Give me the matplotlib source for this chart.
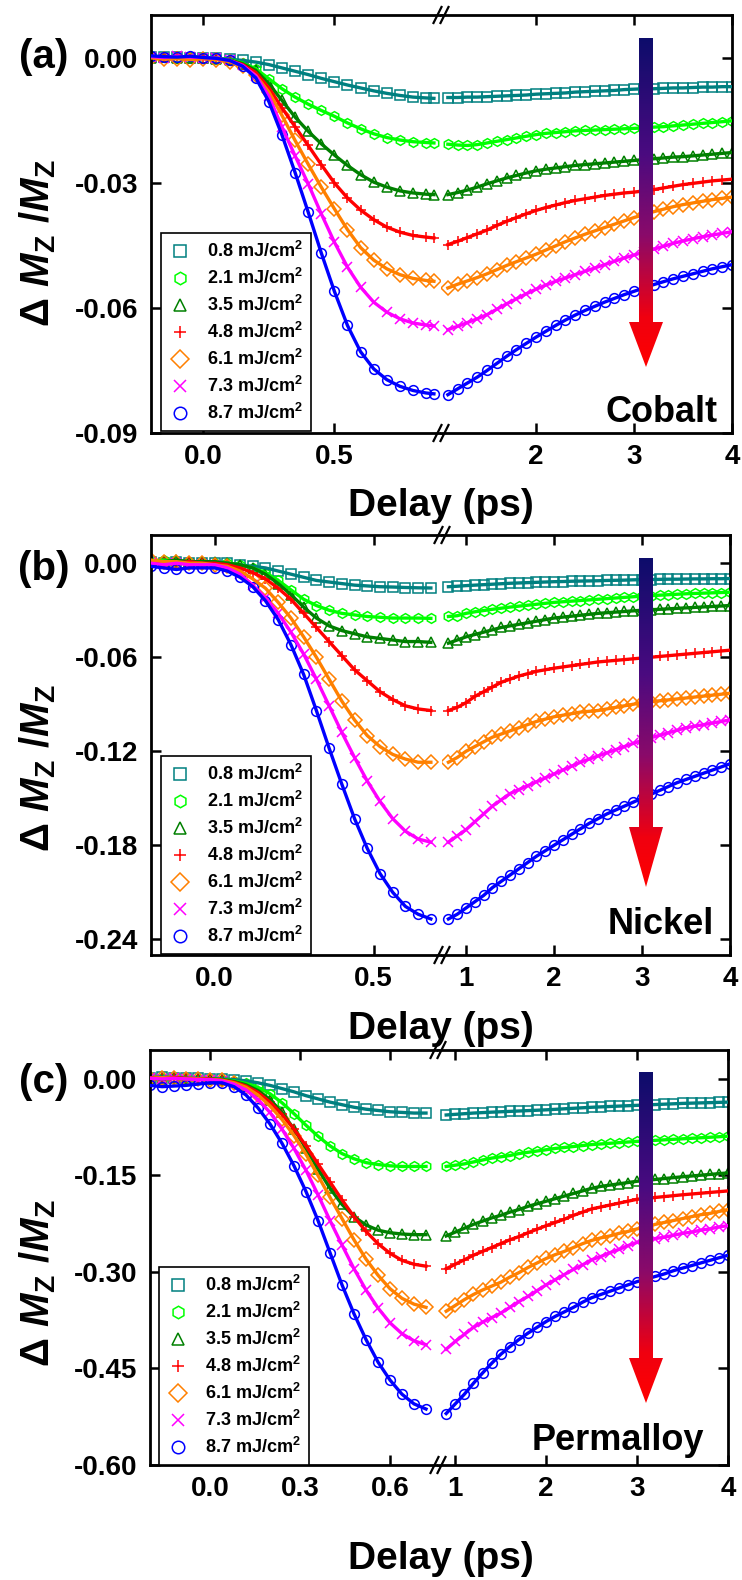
import numpy as np
import matplotlib
matplotlib.use('Agg')
import matplotlib.pyplot as plt
from matplotlib.lines import Line2D
from matplotlib.patches import Polygon
from matplotlib.colors import LinearSegmentedColormap

plt.rcParams['font.family'] = ['Liberation Sans', 'DejaVu Sans']
plt.rcParams['font.weight'] = 'bold'
plt.rcParams['axes.unicode_minus'] = False
plt.rcParams['mathtext.fontset'] = 'custom'
plt.rcParams['mathtext.rm'] = 'Liberation Sans:bold'
plt.rcParams['mathtext.it'] = 'Liberation Sans:bold:italic'
plt.rcParams['mathtext.bf'] = 'Liberation Sans:bold'
plt.rcParams['mathtext.sf'] = 'Liberation Sans'

# ---------------- data ----------------
fluences = ['0.8', '2.1', '3.5', '4.8', '6.1', '7.3', '8.7']
colors = ['#008080', '#00FF00', '#008000', '#FF0000', '#FF8000', '#FF00FF', '#0000FF']
markers = ['s', 'h', '^', '+', 'D', 'x', 'o']

# (a) Cobalt, values in units of 1e-3
co_t_left = [-0.2, -0.15, -0.1, -0.05, 0.0, 0.05, 0.1, 0.15, 0.2, 0.25, 0.3, 0.35, 0.4, 0.45,
             0.5, 0.55, 0.6, 0.65, 0.7, 0.75, 0.8, 0.85, 0.88]
co_left = [
    [0.3, 0.2, 0.3, 0.1, 0.0, -0.1, -0.3, -0.6, -1.0, -1.6, -2.4, -3.2, -4.0, -4.9, -5.7, -6.5, -7.2, -7.9, -8.5, -9.0, -9.4, -9.6, -9.7],
    [0.2, 0.3, 0.1, 0.2, 0.0, -0.1, -0.4, -1.2, -2.6, -5.0, -7.4, -9.4, -11.1, -12.6, -14.0, -15.6, -17.0, -18.2, -19.1, -19.7, -20.1, -20.3, -20.4],
    [0.1, 0.2, 0.0, -0.1, 0.0, -0.2, -0.5, -1.4, -3.0, -6.2, -10.2, -14.2, -17.6, -20.6, -23.3, -25.8, -28.0, -29.8, -31.0, -31.9, -32.4, -32.7, -32.8],
    [0.3, 0.1, 0.4, 0.2, 0.0, -0.2, -0.6, -1.6, -3.5, -7.2, -12.0, -16.5, -21.0, -25.6, -30.0, -33.6, -36.5, -38.8, -40.6, -41.8, -42.6, -43.0, -43.2],
    [0.0, -0.3, -0.2, -0.4, -0.2, -0.4, -0.9, -2.0, -4.2, -8.2, -13.8, -19.8, -25.5, -31.0, -36.2, -41.2, -45.5, -48.5, -50.6, -52.0, -52.9, -53.4, -53.6],
    [0.3, 0.1, 0.4, 0.2, 0.1, -0.1, -0.6, -1.8, -4.3, -9.2, -16.6, -23.5, -30.2, -37.4, -44.2, -50.2, -55.0, -58.6, -61.0, -62.6, -63.6, -64.1, -64.3],
    [0.5, 0.3, 0.2, 0.4, 0.1, -0.1, -0.6, -2.0, -4.8, -10.5, -18.5, -27.5, -37.0, -46.8, -56.0, -64.2, -70.5, -74.6, -77.2, -78.8, -79.8, -80.4, -80.6],
]
co_t_right = [1.1, 1.2, 1.3, 1.4, 1.5, 1.6, 1.7, 1.8, 1.9, 2.0, 2.1, 2.2, 2.3, 2.4, 2.5, 2.6, 2.7, 2.8, 2.9, 3.0,
              3.1, 3.2, 3.3, 3.4, 3.5, 3.6, 3.7, 3.8, 3.9, 4.0]
co_right = [
    [-9.5, -9.5, -9.4, -9.4, -9.3, -9.2, -9.1, -9.0, -8.9, -8.7, -8.6, -8.5, -8.4, -8.2, -8.1, -8.0, -7.9, -7.8, -7.6, -7.5,
     -7.4, -7.4, -7.3, -7.2, -7.2, -7.1, -7.0, -7.0, -6.9, -6.9],
    [-20.7, -20.9, -21.0, -20.8, -20.4, -20.0, -19.6, -19.2, -18.8, -18.4, -18.1, -17.9, -17.7, -17.5, -17.4, -17.3, -17.2, -17.1, -17.0, -16.9,
     -16.8, -16.6, -16.5, -16.3, -16.1, -15.9, -15.7, -15.5, -15.3, -15.1],
    [-32.8, -32.3, -31.7, -31.0, -30.2, -29.5, -28.8, -28.2, -27.6, -27.1, -26.7, -26.4, -26.1, -25.8, -25.6, -25.4, -25.2, -25.0, -24.8, -24.6,
     -24.4, -24.2, -24.0, -23.8, -23.7, -23.5, -23.3, -23.1, -22.9, -22.7],
    [-44.8, -44.0, -43.1, -42.2, -41.3, -40.2, -39.2, -38.3, -37.4, -36.6, -35.9, -35.3, -34.7, -34.2, -33.8, -33.4, -33.0, -32.7, -32.4, -32.2,
     -31.9, -31.6, -31.2, -30.8, -30.4, -30.1, -29.8, -29.5, -29.3, -29.1],
    [-55.2, -54.3, -53.5, -52.7, -51.8, -50.8, -49.8, -48.9, -48.0, -47.1, -46.1, -45.1, -44.1, -43.2, -42.3, -41.5, -40.7, -39.9, -39.1, -38.3,
     -37.6, -36.9, -36.3, -35.7, -35.2, -34.8, -34.4, -34.0, -33.7, -33.4],
    [-65.2, -64.4, -63.5, -62.6, -61.6, -60.3, -59.0, -57.8, -56.6, -55.5, -54.5, -53.6, -52.8, -52.0, -51.2, -50.4, -49.6, -48.8, -48.0, -47.3,
     -46.6, -45.9, -45.2, -44.5, -43.9, -43.4, -42.9, -42.5, -42.1, -41.7],
    [-80.8, -79.4, -78.0, -76.6, -75.0, -73.3, -71.6, -70.0, -68.5, -67.0, -65.6, -64.2, -62.9, -61.7, -60.6, -59.6, -58.6, -57.7, -56.8, -56.0,
     -55.2, -54.4, -53.7, -53.0, -52.4, -51.8, -51.2, -50.6, -50.1, -49.6],
]

# (b) Nickel
ni_t_left = [-0.2, -0.16, -0.12, -0.08, -0.04, 0.0, 0.04, 0.08, 0.12, 0.16, 0.2, 0.24, 0.28, 0.32, 0.36,
             0.4, 0.44, 0.48, 0.52, 0.56, 0.6, 0.64, 0.68]
ni_left = [
    [0.001, 0.000, 0.001, 0.000, 0.000, 0.000, 0.000, -0.001, -0.002, -0.003, -0.005, -0.007, -0.009, -0.011, -0.012, -0.013, -0.014, -0.0145, -0.015, -0.0152, -0.0155, -0.0157, -0.0158],
    [0.001, 0.002, 0.001, 0.001, 0.000, 0.000, 0.000, -0.001, -0.003, -0.006, -0.011, -0.017, -0.023, -0.027, -0.030, -0.032, -0.033, -0.034, -0.0345, -0.035, -0.035, -0.035, -0.0352],
    [0.001, 0.001, 0.002, 0.001, 0.001, 0.001, 0.000, -0.001, -0.003, -0.007, -0.013, -0.020, -0.028, -0.035, -0.040, -0.043, -0.045, -0.047, -0.048, -0.049, -0.050, -0.050, -0.0505],
    [0.000, 0.001, 0.000, 0.001, 0.000, 0.000, -0.001, -0.003, -0.006, -0.010, -0.016, -0.023, -0.032, -0.041, -0.050, -0.059, -0.068, -0.075, -0.082, -0.087, -0.091, -0.093, -0.094],
    [0.002, 0.001, 0.001, 0.000, 0.000, -0.001, -0.002, -0.005, -0.010, -0.016, -0.025, -0.035, -0.047, -0.060, -0.074, -0.088, -0.100, -0.110, -0.117, -0.122, -0.125, -0.127, -0.127],
    [0.000, -0.001, 0.000, -0.001, -0.001, -0.001, -0.003, -0.007, -0.014, -0.022, -0.032, -0.044, -0.058, -0.074, -0.091, -0.108, -0.124, -0.139, -0.152, -0.163, -0.171, -0.176, -0.178],
    [-0.002, -0.003, -0.004, -0.003, -0.003, -0.003, -0.005, -0.009, -0.015, -0.024, -0.036, -0.052, -0.071, -0.094, -0.118, -0.141, -0.163, -0.182, -0.198, -0.210, -0.219, -0.224, -0.227],
]
ni_t_right = [0.8, 0.9, 1.0, 1.1, 1.2, 1.3, 1.4, 1.5, 1.6, 1.7, 1.8, 1.9, 2.0, 2.1, 2.2, 2.3, 2.4, 2.5, 2.6, 2.7, 2.8, 2.9,
              3.0, 3.1, 3.2, 3.3, 3.4, 3.5, 3.6, 3.7, 3.8, 3.9, 4.0]
ni_right = [
    [-0.0150, -0.0147, -0.0143, -0.0140, -0.0137, -0.0134, -0.0131, -0.0128, -0.0126, -0.0124, -0.0122, -0.0120, -0.0118, -0.0117, -0.0115, -0.0114, -0.0113,
     -0.0112, -0.0110, -0.0109, -0.0108, -0.0106, -0.0105, -0.0104, -0.0103, -0.0102, -0.0102, -0.0101, -0.0100, -0.0100, -0.0099, -0.0099, -0.0098],
    [-0.0340, -0.0335, -0.0320, -0.0310, -0.0302, -0.0294, -0.0287, -0.0280, -0.0274, -0.0268, -0.0262, -0.0256, -0.0250, -0.0246, -0.0242, -0.0238, -0.0234,
     -0.0230, -0.0226, -0.0222, -0.0218, -0.0214, -0.0210, -0.0207, -0.0204, -0.0201, -0.0198, -0.0195, -0.0193, -0.0191, -0.0189, -0.0187, -0.0185],
    [-0.0510, -0.0490, -0.0470, -0.0455, -0.0440, -0.0425, -0.0410, -0.0400, -0.0390, -0.0380, -0.0370, -0.0360, -0.0350, -0.0344, -0.0338, -0.0332, -0.0326,
     -0.0320, -0.0316, -0.0312, -0.0308, -0.0304, -0.0300, -0.0297, -0.0294, -0.0291, -0.0288, -0.0285, -0.0282, -0.0279, -0.0276, -0.0273, -0.0270],
    [-0.094, -0.092, -0.089, -0.085, -0.082, -0.079, -0.076, -0.074, -0.072, -0.0705, -0.069, -0.068, -0.0670, -0.0662, -0.0654, -0.0646, -0.0638,
     -0.0630, -0.0625, -0.0620, -0.0615, -0.0610, -0.0605, -0.0600, -0.0595, -0.0590, -0.0585, -0.0580, -0.0575, -0.0570, -0.0565, -0.0560, -0.0555],
    [-0.127, -0.124, -0.120, -0.117, -0.114, -0.111, -0.109, -0.107, -0.105, -0.103, -0.101, -0.0995, -0.0980, -0.0970, -0.0960, -0.0950, -0.0945,
     -0.0940, -0.0930, -0.0920, -0.0910, -0.0900, -0.0890, -0.0884, -0.0878, -0.0872, -0.0866, -0.0860, -0.0854, -0.0848, -0.0842, -0.0836, -0.0830],
    [-0.178, -0.174, -0.170, -0.165, -0.160, -0.155, -0.151, -0.147, -0.1445, -0.142, -0.1395, -0.137, -0.1345, -0.132, -0.1295, -0.127, -0.125,
     -0.123, -0.121, -0.119, -0.117, -0.115, -0.113, -0.1114, -0.1098, -0.1082, -0.1066, -0.1050, -0.1040, -0.1030, -0.1020, -0.1010, -0.1000],
    [-0.227, -0.224, -0.220, -0.216, -0.212, -0.207, -0.203, -0.199, -0.195, -0.191, -0.187, -0.1835, -0.180, -0.1765, -0.173, -0.1695, -0.166,
     -0.163, -0.160, -0.1575, -0.155, -0.1525, -0.150, -0.1475, -0.145, -0.1425, -0.140, -0.138, -0.136, -0.134, -0.132, -0.130, -0.128],
]

# (c) Permalloy
py_t_left = [-0.2, -0.16, -0.12, -0.08, -0.04, 0.0, 0.04, 0.08, 0.12, 0.16, 0.2, 0.24, 0.28, 0.32, 0.36,
             0.4, 0.44, 0.48, 0.52, 0.56, 0.6, 0.64, 0.68, 0.72]
py_left = [
    [0.002, 0.003, 0.002, 0.001, 0.001, 0.000, 0.000, -0.001, -0.003, -0.006, -0.010, -0.015, -0.020, -0.026, -0.031, -0.036, -0.040, -0.044, -0.047, -0.049, -0.051, -0.052, -0.053, -0.053],
    [0.001, 0.002, 0.001, 0.001, 0.000, 0.000, -0.001, -0.003, -0.007, -0.013, -0.023, -0.037, -0.054, -0.072, -0.089, -0.104, -0.116, -0.124, -0.130, -0.133, -0.135, -0.136, -0.136, -0.136],
    [0.001, 0.000, 0.001, 0.000, 0.000, 0.000, -0.001, -0.004, -0.009, -0.018, -0.032, -0.052, -0.078, -0.108, -0.140, -0.170, -0.195, -0.214, -0.227, -0.235, -0.239, -0.241, -0.242, -0.242],
    [0.002, 0.001, 0.002, 0.001, 0.000, 0.000, -0.002, -0.005, -0.011, -0.021, -0.036, -0.055, -0.078, -0.104, -0.132, -0.160, -0.188, -0.214, -0.237, -0.256, -0.271, -0.282, -0.288, -0.291],
    [0.001, 0.002, 0.001, 0.000, 0.000, -0.001, -0.002, -0.006, -0.013, -0.025, -0.042, -0.063, -0.088, -0.117, -0.150, -0.184, -0.217, -0.250, -0.280, -0.305, -0.326, -0.341, -0.350, -0.355],
    [0.001, 0.000, 0.001, 0.000, -0.001, -0.001, -0.003, -0.008, -0.017, -0.032, -0.052, -0.078, -0.108, -0.142, -0.180, -0.220, -0.258, -0.295, -0.328, -0.356, -0.379, -0.396, -0.407, -0.413],
    [-0.010, -0.012, -0.011, -0.010, -0.008, -0.006, -0.006, -0.012, -0.025, -0.045, -0.070, -0.100, -0.135, -0.175, -0.220, -0.270, -0.320, -0.365, -0.405, -0.440, -0.468, -0.490, -0.505, -0.513],
]
py_t_right = [0.9, 1.0, 1.1, 1.2, 1.3, 1.4, 1.5, 1.6, 1.7, 1.8, 1.9, 2.0, 2.1, 2.2, 2.3, 2.4, 2.5, 2.6, 2.7, 2.8, 2.9,
              3.0, 3.1, 3.2, 3.3, 3.4, 3.5, 3.6, 3.7, 3.8, 3.9, 4.0]
py_right = [
    [-0.056, -0.055, -0.054, -0.053, -0.0523, -0.0516, -0.051, -0.0504, -0.0498, -0.0492, -0.0486, -0.048, -0.0472, -0.0464, -0.0456, -0.0448,
     -0.044, -0.0434, -0.0428, -0.0422, -0.0416, -0.041, -0.0404, -0.0398, -0.0392, -0.0386, -0.038, -0.0376, -0.0372, -0.0368, -0.0364, -0.036],
    [-0.136, -0.134, -0.132, -0.129, -0.126, -0.123, -0.121, -0.119, -0.116, -0.114, -0.112, -0.110, -0.108, -0.1065, -0.105, -0.1035,
     -0.102, -0.101, -0.100, -0.099, -0.098, -0.097, -0.0962, -0.0954, -0.0946, -0.0938, -0.093, -0.0922, -0.0914, -0.0906, -0.0898, -0.089],
    [-0.244, -0.238, -0.232, -0.226, -0.221, -0.216, -0.212, -0.207, -0.203, -0.198, -0.194, -0.190, -0.186, -0.182, -0.178, -0.174,
     -0.170, -0.167, -0.165, -0.163, -0.161, -0.159, -0.1576, -0.1562, -0.1548, -0.1534, -0.152, -0.1508, -0.1496, -0.1484, -0.1472, -0.146],
    [-0.295, -0.288, -0.281, -0.274, -0.268, -0.262, -0.256, -0.250, -0.245, -0.239, -0.2335, -0.228, -0.223, -0.218, -0.212, -0.207,
     -0.202, -0.199, -0.196, -0.193, -0.190, -0.187, -0.1856, -0.1842, -0.1828, -0.1814, -0.180, -0.1788, -0.1776, -0.1764, -0.1752, -0.174],
    [-0.361, -0.352, -0.343, -0.335, -0.328, -0.322, -0.316, -0.308, -0.301, -0.293, -0.286, -0.279, -0.273, -0.268, -0.262, -0.256,
     -0.251, -0.247, -0.244, -0.240, -0.237, -0.233, -0.230, -0.226, -0.223, -0.220, -0.217, -0.214, -0.211, -0.209, -0.206, -0.203],
    [-0.420, -0.408, -0.397, -0.386, -0.378, -0.371, -0.364, -0.355, -0.346, -0.338, -0.329, -0.320, -0.312, -0.304, -0.296, -0.289,
     -0.281, -0.276, -0.270, -0.265, -0.259, -0.254, -0.251, -0.248, -0.246, -0.243, -0.240, -0.238, -0.235, -0.233, -0.230, -0.228],
    [-0.520, -0.505, -0.490, -0.473, -0.457, -0.442, -0.428, -0.416, -0.405, -0.395, -0.386, -0.377, -0.369, -0.362, -0.355, -0.347,
     -0.340, -0.335, -0.330, -0.325, -0.320, -0.315, -0.311, -0.307, -0.303, -0.298, -0.294, -0.290, -0.286, -0.282, -0.278, -0.274],
]

# ---------------- layout ----------------
W, H = 742, 1580
fig = plt.figure(figsize=(W / 100, H / 100), dpi=100)
fig.patch.set_facecolor('white')


def fx(p):
    return p / W


def fy(p):
    return 1 - p / H


panels = [
    dict(tl=co_t_left, yl=co_left, tr=co_t_right, yr=co_right, scale=1e-3,
         L=151, B=441, R=732, T=15, Bo=433,
         xlimL=(-0.2, 0.907), xlimR=(1.03, 4.0),
         xtL=[0.0, 0.5], xtLl=['0.0', '0.5'], xtR=[2, 3, 4], xtRl=['2', '3', '4'],
         ylim=(-0.09, 0.0103), yt=[0.0, -0.03, -0.06, -0.09], ytl=['0.00', '-0.03', '-0.06', '-0.09'],
         tag='(a)', tagy=57, ylab_y=243, delay_y=506, name='Cobalt', name_x=718, name_y=412,
         leg=(161, 233), arrow=(646, 38, 322, 367)),
    dict(tl=ni_t_left, yl=ni_left, tr=ni_t_right, yr=ni_right, scale=1.0,
         L=151, B=442, R=730, T=535, Bo=955,
         xlimL=(-0.2, 0.715), xlimR=(0.727, 4.0),
         xtL=[0.0, 0.5], xtLl=['0.0', '0.5'], xtR=[1, 2, 3, 4], xtRl=['1', '2', '3', '4'],
         ylim=(-0.25, 0.018), yt=[0.0, -0.06, -0.12, -0.18, -0.24],
         ytl=['0.00', '-0.06', '-0.12', '-0.18', '-0.24'],
         tag='(b)', tagy=569, ylab_y=768, delay_y=1029, name='Nickel', name_x=714, name_y=925,
         leg=(161, 756), arrow=(646, 558, 827, 887)),
    dict(tl=py_t_left, yl=py_left, tr=py_t_right, yr=py_right, scale=1.0,
         L=150, B=438, R=728, T=1050, Bo=1465,
         xlimL=(-0.2, 0.76), xlimR=(0.81, 4.0),
         xtL=[0.0, 0.3, 0.6], xtLl=['0.0', '0.3', '0.6'], xtR=[1, 2, 3, 4], xtRl=['1', '2', '3', '4'],
         ylim=(-0.60, 0.045), yt=[0.0, -0.15, -0.30, -0.45, -0.60],
         ytl=['0.00', '-0.15', '-0.30', '-0.45', '-0.60'],
         tag='(c)', tagy=1082, ylab_y=1283, delay_y=1559, name='Permalloy', name_x=704, name_y=1440,
         leg=(159, 1267), arrow=(646, 1072, 1358, 1403)),
]

TICK_FS = 20
LW_SPINE = 2.0

ov = fig.add_axes([0, 0, 1, 1], zorder=20)
ov.set_xlim(0, W)
ov.set_ylim(H, 0)
ov.axis('off')
ov.patch.set_alpha(0)

cmap = LinearSegmentedColormap.from_list(
    'arr', [(0.0, '#0d0d6b'), (0.35, '#4a0a80'), (0.6, '#8a0a6a'), (0.85, '#f00010'), (1.0, '#ff0000')])
grad = np.linspace(0, 1, 256).reshape(-1, 1)

for p in panels:
    h = p['Bo'] - p['T']
    axL = fig.add_axes([fx(p['L']), fy(p['Bo']), (p['B'] - p['L']) / W, h / H])
    axR = fig.add_axes([fx(p['B']), fy(p['Bo']), (p['R'] - p['B']) / W, h / H])
    for ax, tt, yy in ((axL, p['tl'], p['yl']), (axR, p['tr'], p['yr'])):
        for i in range(7):
            vals = np.asarray(yy[i]) * p['scale']
            ax.plot(tt, vals, linestyle='none', marker=markers[i], ms=7,
                    mfc='none', mec=colors[i], mew=1.1, zorder=2 + i * 0.01)
        for i in range(7):
            vals = np.asarray(yy[i]) * p['scale']
            ax.plot(tt, vals, '-', color=colors[i], lw=2.4, zorder=3 + i * 0.01)
        ax.set_ylim(*p['ylim'])
        ax.set_yticks(p['yt'])
        for s in ax.spines.values():
            s.set_linewidth(LW_SPINE)
        ax.tick_params(direction='in', length=7, width=1.8, labelsize=TICK_FS, pad=8)
    axL.set_xlim(*p['xlimL'])
    axR.set_xlim(*p['xlimR'])
    axL.set_xticks(p['xtL'])
    axL.set_xticklabels(p['xtLl'])
    axR.set_xticks(p['xtR'])
    axR.set_xticklabels(p['xtRl'])
    axL.set_yticklabels(p['ytl'])
    axL.spines['right'].set_visible(False)
    axR.spines['left'].set_visible(False)
    axL.tick_params(axis='x', top=True, bottom=True)
    axL.tick_params(axis='y', left=True, right=False, pad=9)
    axR.tick_params(axis='x', top=True, bottom=True)
    axR.tick_params(axis='y', left=False, right=True, labelleft=False)

    # break marks
    for yb in (p['T'], p['Bo']):
        for dx in (-3.5, 3.5):
            ov.plot([p['B'] + dx - 4, p['B'] + dx + 4], [yb + 8, yb - 8], color='black', lw=1.6)

    # legend
    handles = [Line2D([], [], linestyle='none', marker=markers[i], ms=9, mfc='none',
                      mec=colors[i], mew=1.1) for i in range(7)]
    labels = [f + ' mJ/cm$^2$' for f in fluences]
    leg = axL.legend(handles, labels, loc='upper left',
                     bbox_to_anchor=(fx(p['leg'][0]), fy(p['leg'][1])),
                     bbox_transform=fig.transFigure, fontsize=13, frameon=True,
                     fancybox=False, edgecolor='black', framealpha=1, borderpad=0.45,
                     labelspacing=0.38, handlelength=1.2, handletextpad=0.9, borderaxespad=0)
    leg.get_frame().set_linewidth(1.2)
    leg.set_zorder(10)

    # texts
    fig.text(fx(44), fy(p['tagy']), p['tag'], fontsize=29, fontweight='bold', ha='center', va='center')
    fig.text(fx(38), fy(p['ylab_y']), r'$\mathsf{\Delta}\ M_{\mathrm{Z}}\ /M_{\mathrm{Z}}$', fontsize=29,
             rotation=90, ha='center', va='center')
    fig.text(fx(441), fy(p['delay_y']), 'Delay (ps)', fontsize=28, fontweight='bold',
             ha='center', va='center')
    fig.text(fx(p['name_x']), fy(p['name_y']), p['name'], fontsize=26, fontweight='bold',
             ha='right', va='center')

    # gradient arrow
    xc, ytop, ybase, ytip = p['arrow']
    sw, hw = 7, 17
    verts = [(xc - sw, ytop), (xc + sw, ytop), (xc + sw, ybase), (xc + hw, ybase), (xc, ytip),
             (xc - hw, ybase), (xc - sw, ybase)]
    poly = Polygon(verts, closed=True, facecolor='none', edgecolor='none', transform=ov.transData)
    ov.add_patch(poly)
    im = ov.imshow(grad, cmap=cmap, aspect='auto', extent=[xc - hw, xc + hw, ytip, ytop],
                   interpolation='bilinear', zorder=5)
    im.set_clip_path(poly)

ov.set_xlim(0, W)
ov.set_ylim(H, 0)

fig.savefig('out.png', dpi=100, facecolor='white')
